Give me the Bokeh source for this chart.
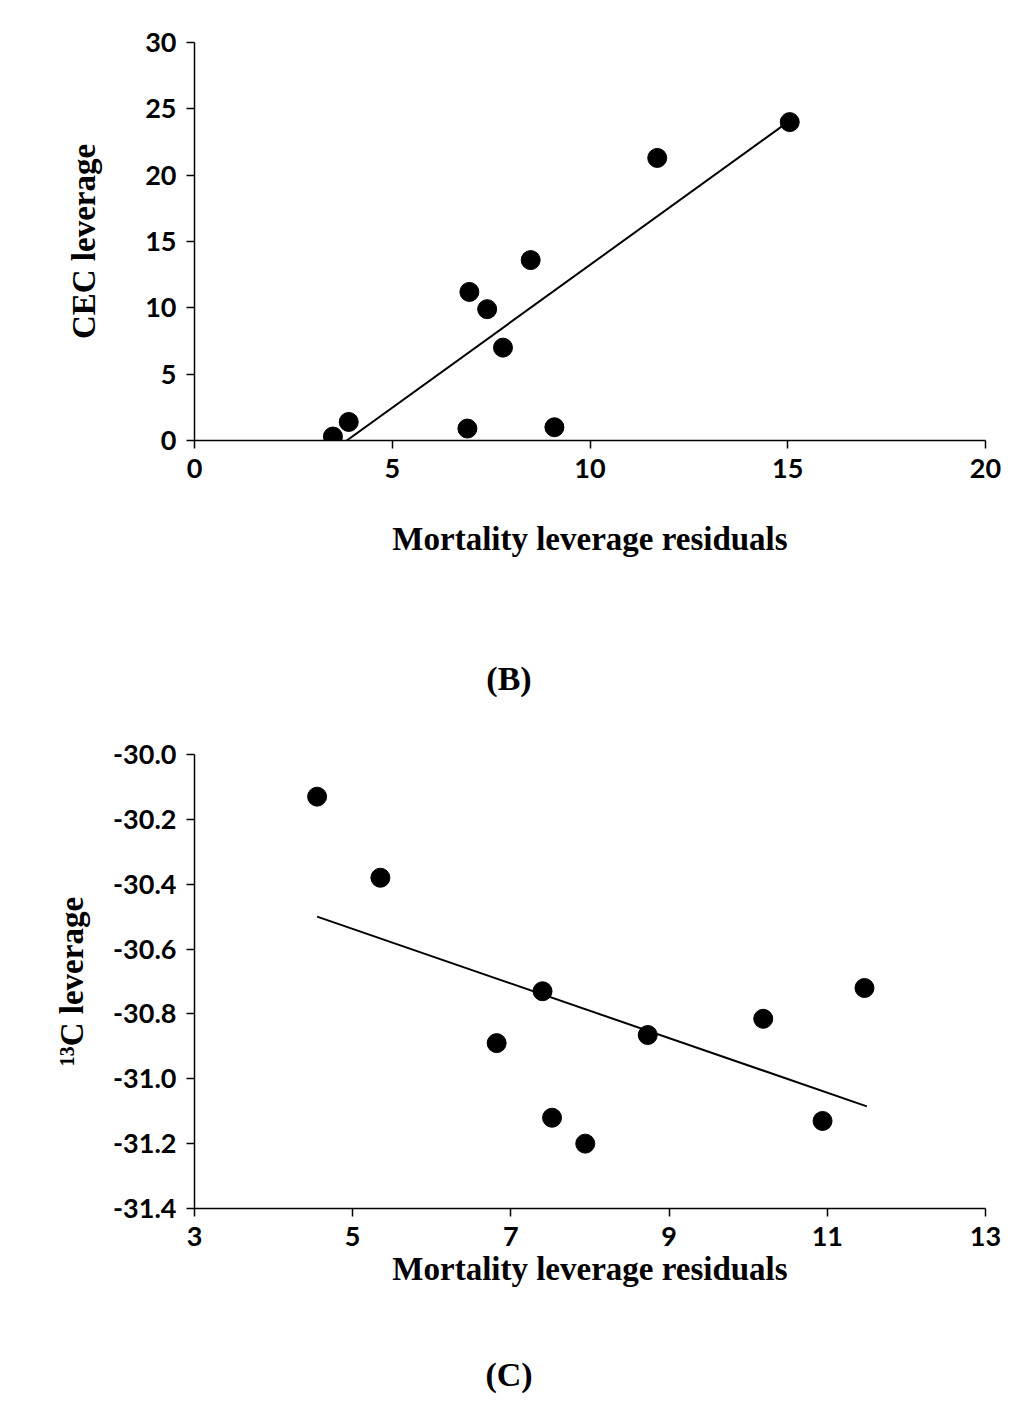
from bokeh.plotting import figure
from bokeh.layouts import column
from bokeh.models import Div, FixedTicker, PrintfTickFormatter, Range1d
from bokeh.embed import file_html
from bokeh.resources import INLINE

b_x = [3.5, 3.9, 6.9, 6.95, 7.4, 7.8, 8.5, 9.1, 11.7, 15.05]
b_y = [0.3, 1.4, 0.9, 11.2, 9.9, 7.0, 13.6, 1.0, 21.3, 24.0]
b_line_x = [3.85, 15.0]
b_line_y = [0.0, 24.0]

c_x = [4.55, 5.35, 6.82, 7.4, 7.52, 7.94, 8.73, 10.19, 10.94, 11.47]
c_y = [-30.13, -30.38, -30.89, -30.73, -31.12, -31.20, -30.865, -30.815, -31.13, -30.72]
c_line_x = [4.55, 11.5]
c_line_y = [-30.50, -31.085]

TICK_FONT = "Lato"
TITLE_FONT = "Liberation Serif"

def style(p):
    p.grid.visible = False
    p.outline_line_color = None
    for ax in (p.xaxis[0], p.yaxis[0]):
        ax.axis_line_color = "black"
        ax.axis_line_width = 1.5
        ax.major_tick_line_color = "black"
        ax.major_tick_line_width = 1.5
        ax.major_tick_out = 8
        ax.major_tick_in = 0
        ax.minor_tick_line_color = None
        ax.major_label_standoff = 10
        ax.major_label_text_font = TICK_FONT
        ax.major_label_text_font_style = "bold"
        ax.major_label_text_font_size = "27px"
        ax.major_label_text_color = "black"
        ax.axis_label_text_font = TITLE_FONT
        ax.axis_label_text_font_style = "bold"
        ax.axis_label_text_font_size = "33px"
        ax.axis_label_text_color = "black"

p1 = figure(width=1008, height=600, output_backend="svg", toolbar_location=None,
            x_range=Range1d(0, 20), y_range=Range1d(0, 30),
            min_border_left=185, min_border_right=23, min_border_top=42, min_border_bottom=160)
p1.xaxis.ticker = FixedTicker(ticks=[0, 5, 10, 15, 20])
p1.yaxis.ticker = FixedTicker(ticks=[0, 5, 10, 15, 20, 25, 30])
p1.xaxis.axis_label = "Mortality leverage residuals"
p1.yaxis.axis_label = "CEC leverage"
style(p1)
p1.xaxis.axis_label_standoff = 40
p1.yaxis.axis_label_standoff = 40
p1.line(b_line_x, b_line_y, line_color="black", line_width=2)
p1.scatter(b_x, b_y, size=19, color="black")

d1 = Div(text="(B)", width=1008, height=104,
         styles={"text-align": "center", "font-family": TITLE_FONT, "font-weight": "bold",
                 "font-size": "34px", "padding-top": "50px", "color": "black", "width": "1008px"})

p2 = figure(width=1008, height=596, output_backend="svg", toolbar_location=None,
            x_range=Range1d(3, 13), y_range=Range1d(-31.4, -30.0),
            min_border_left=194, min_border_right=20, min_border_top=40, min_border_bottom=102)
p2.xaxis.ticker = FixedTicker(ticks=[3, 5, 7, 9, 11, 13])
p2.yaxis.ticker = FixedTicker(ticks=[-30.0, -30.2, -30.4, -30.6, -30.8, -31.0, -31.2, -31.4])
p2.yaxis.formatter = PrintfTickFormatter(format="%.1f")
p2.xaxis.axis_label = "Mortality leverage residuals"
p2.yaxis.axis_label = "¹³C leverage"
style(p2)
p2.xaxis.axis_label_standoff = 2
p2.yaxis.axis_label_standoff = 20
p2.line(c_line_x, c_line_y, line_color="black", line_width=2)
p2.scatter(c_x, c_y, size=19, color="black")

d2 = Div(text="(C)", width=1008, height=90,
         styles={"text-align": "center", "font-family": TITLE_FONT, "font-weight": "bold",
                 "font-size": "34px", "padding-top": "36px", "color": "black", "width": "1008px"})

lay = column(p1, d1, p2, d2, spacing=0)
open("out.html", "w").write(file_html(lay, INLINE))
